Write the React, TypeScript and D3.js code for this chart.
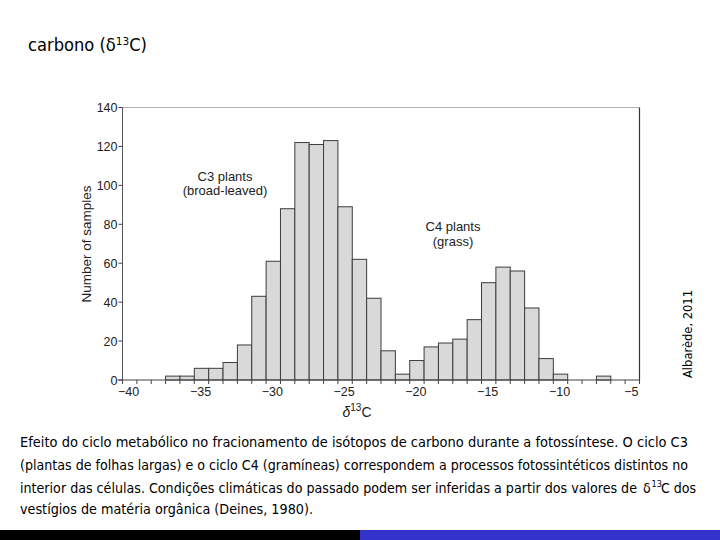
import React from "react";
import * as d3 from "d3";

const binCenters = [-40, -39, -38, -37, -36, -35, -34, -33, -32, -31, -30, -29, -28, -27, -26, -25, -24, -23, -22, -21, -20, -19, -18, -17, -16, -15, -14, -13, -12, -11, -10, -9, -8, -7, -6, -5];
const counts = [0, 0, 0, 2, 2, 6, 6, 9, 18, 43, 61, 88, 122, 121, 123, 89, 62, 42, 15, 3, 10, 17, 19, 21, 31, 50, 58, 56, 37, 11, 3, 0, 0, 2, 0, 0];
const xTickLabels = [-40, -35, -30, -25, -20, -15, -10, -5];
const yTickLabels = [0, 20, 40, 60, 80, 100, 120, 140];
const captionLines = [
  "Efeito do ciclo metabólico no fracionamento de isótopos de carbono durante a fotossíntese. O ciclo C3",
  "(plantas de folhas largas) e o ciclo C4 (gramíneas) correspondem a processos fotossintéticos distintos no",
];
const captionLine3a = "interior das células. Condições climáticas do passado podem ser inferidas a partir dos valores de";
const captionLine3b = "C dos";
const captionLine4 = "vestígios de matéria orgânica (Deines, 1980).";

const plotFont = "'Liberation Sans', Arial, Helvetica, sans-serif";
const slideFont = "'Liberation Sans Narrow', 'DejaVu Sans Condensed', 'Open Sans', sans-serif";

export default function App() {
  const x = d3.scaleLinear().domain([-40.5, -4.5]).range([122.5, 639.5]);
  const y = d3.scaleLinear().domain([0, 140]).range([380, 107.5]);
  const edges = d3.range(-40.5, -4.4, 1);
  const fmt = (v: number) => (v < 0 ? "\u2212" + Math.abs(v) : String(v));
  const [y0, y1] = y.range();
  const [x0, x1] = x.range();

  return (
    <div style={{ position: "absolute", left: 0, top: 0 }}>
      <svg width={720} height={540} style={{ display: "block", background: "#fff" }}>
        <text x={28} y={51} fontFamily={slideFont} fontSize={17} fill="#000" textLength={119} lengthAdjust="spacingAndGlyphs">
          carbono (δ<tspan fontSize={11} dy={-6}>13</tspan><tspan dy={6}>C)</tspan>
        </text>

        {binCenters.map((c, i) =>
          counts[i] > 0 ? (
            <rect
              key={c}
              x={x(c - 0.5)}
              y={y(counts[i])}
              width={x(c + 0.5) - x(c - 0.5)}
              height={y(0) - y(counts[i])}
              fill="#d9d9d9"
              stroke="#3c3c3c"
              strokeWidth={1}
            />
          ) : null
        )}

        <line x1={x0} x2={x1} y1={y1} y2={y1} stroke="#b0b0b0" strokeWidth={1} />
        <line x1={x1} x2={x1} y1={y1} y2={y0} stroke="#333" strokeWidth={1.2} />
        <line x1={x0} x2={x0} y1={y1} y2={y0} stroke="#555" strokeWidth={1} />
        <line x1={x0 - 5} x2={x1} y1={y0} y2={y0} stroke="#444" strokeWidth={1.2} />

        {edges.map((e) => (
          <line key={e} x1={x(e)} x2={x(e)} y1={y0} y2={y0 + 4} stroke="#444" strokeWidth={1} />
        ))}
        {xTickLabels.map((v) => (
          <text key={v} x={x(v) - 1} y={y0 + 16} textAnchor="middle" fontFamily={plotFont} fontSize={12.5} fill="#222">
            {fmt(v)}
          </text>
        ))}

        {yTickLabels.map((v) => (
          <g key={v}>
            <line x1={x0 - 4} x2={x0} y1={y(v)} y2={y(v)} stroke="#444" strokeWidth={1} />
            <text x={x0 - 5} y={y(v) + 4.5} textAnchor="end" fontFamily={plotFont} fontSize={12.5} fill="#222">
              {v}
            </text>
          </g>
        ))}

        <text transform={`translate(91,244) rotate(-90)`} textAnchor="middle" fontFamily={plotFont} fontSize={13.5} fill="#222">
          Number of samples
        </text>
        <text x={357} y={417} textAnchor="middle" fontFamily={plotFont} fontSize={14} fill="#222">
          <tspan fontStyle="italic">δ</tspan>
          <tspan fontSize={10} dy={-6}>13</tspan>
          <tspan dy={6}>C</tspan>
        </text>

        <text x={225} y={181} textAnchor="middle" fontFamily={plotFont} fontSize={13} fill="#222">C3 plants</text>
        <text x={225} y={195} textAnchor="middle" fontFamily={plotFont} fontSize={13} fill="#222">(broad-leaved)</text>
        <text x={453} y={231} textAnchor="middle" fontFamily={plotFont} fontSize={13} fill="#222">C4 plants</text>
        <text x={453} y={246} textAnchor="middle" fontFamily={plotFont} fontSize={13} fill="#222">(grass)</text>

        <text transform="translate(692,378) rotate(-90)" fontFamily={slideFont} fontSize={12.5} fill="#000" textLength={88} lengthAdjust="spacingAndGlyphs">
          Albarède, 2011
        </text>

        <text x={20} y={447} fontFamily={slideFont} fontSize={14} fill="#000" textLength={668} lengthAdjust="spacingAndGlyphs">{captionLines[0]}</text>
        <text x={20} y={470} fontFamily={slideFont} fontSize={14} fill="#000" textLength={668} lengthAdjust="spacingAndGlyphs">{captionLines[1]}</text>
        <text x={20} y={493} fontFamily={slideFont} fontSize={14} fill="#000" textLength={617} lengthAdjust="spacingAndGlyphs">{captionLine3a}</text>
        <text x={643} y={493} fontFamily={slideFont} fontSize={14} fill="#000">δ</text>
        <text x={651.5} y={487} fontFamily={slideFont} fontSize={9} fill="#000">13</text>
        <text x={661} y={493} fontFamily={slideFont} fontSize={14} fill="#000">{captionLine3b}</text>
        <text x={20} y={514} fontFamily={slideFont} fontSize={14} fill="#000" textLength={293} lengthAdjust="spacingAndGlyphs">{captionLine4}</text>

        <rect x={0} y={530} width={360} height={10} fill="#000" />
        <rect x={360} y={530} width={360} height={10} fill="#3333cc" />
      </svg>
    </div>
  );
}
